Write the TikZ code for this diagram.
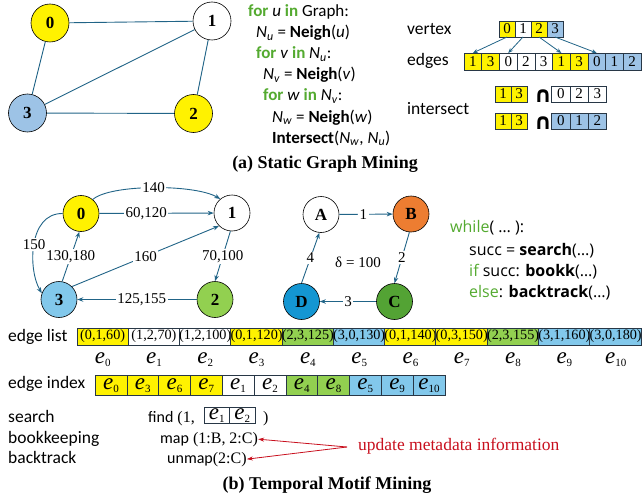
\documentclass[tikz,border=0pt]{standalone}
\usepackage{fontspec}
\setmainfont{Liberation Serif}
\newfontfamily\calfont{Carlito}
\newfontfamily\segfont{Open Sans}
\newfontfamily\symfont{DejaVu Sans}
\usetikzlibrary{arrows.meta}
\definecolor{edgeblue}{RGB}{33,100,135}
\definecolor{celldark}{RGB}{40,55,70}
\definecolor{kwgreen}{RGB}{84,170,48}
\definecolor{ablue}{RGB}{157,195,230}
\definecolor{bblue}{RGB}{130,200,235}
\definecolor{lgreen}{RGB}{146,208,80}
\definecolor{dgreen}{RGB}{83,163,52}
\definecolor{dblue}{RGB}{20,150,210}
\definecolor{borange}{RGB}{237,125,49}
\definecolor{notered}{RGB}{200,16,30}
\newcommand\kwd[1]{{\bfseries\color{kwgreen}#1}}
\newcommand\Nsub[1]{\textit{N}\textsubscript{\textit{#1}}}
% edge identifier: large italic e with a small upright index
\newcommand\ee[1]{{\fontsize{23}{23}\selectfont\itshape e}\raisebox{-3pt}{\fontsize{11}{11}\selectfont #1}}
\begin{document}
\begin{tikzpicture}[x=1pt,y=1pt,
  vnode/.style={circle,draw=black,line width=0.6pt,inner sep=0pt,font=\fontsize{17}{17}\selectfont\bfseries},
  anode/.style={vnode,minimum size=38pt},
  bnode/.style={vnode,minimum size=36pt},
  link/.style={draw=edgeblue,line width=0.9pt},
  arc/.style={link,-{Stealth[length=6pt,width=4.5pt]}},
  lbl/.style={fill=white,inner sep=1.5pt,font=\fontsize{15}{15}\selectfont},
  cell/.style={draw=celldark,line width=0.6pt,inner sep=0pt,outer sep=0pt},
  vcell/.style={cell,minimum width=16pt,minimum height=16pt,font=\fontsize{15}{15}\selectfont},
  ecell/.style={cell,minimum width=17.7pt,minimum height=17pt,font=\fontsize{15}{15}\selectfont},
  xcell/.style={cell,minimum width=18.3pt,minimum height=16pt,font=\fontsize{15}{15}\selectfont},
  lcell/.style={cell,minimum width=51.3pt,minimum height=17pt,font=\fontsize{14.2}{14.2}\selectfont},
  icell/.style={cell,minimum width=31.8pt,minimum height=20pt,text height=12pt,text depth=4pt},
  fcell/.style={cell,minimum width=25.5pt,minimum height=16pt,text height=11pt,text depth=3pt},
  code/.style={anchor=base west,inner sep=0pt,font=\calfont\fontsize{17}{17}\selectfont},
  wcode/.style={anchor=base west,inner sep=0pt,font=\segfont\fontsize{16}{16}\selectfont},
  tag/.style={anchor=base west,inner sep=0pt,font=\calfont\fontsize{17.5}{17.5}\selectfont},
  sub/.style={anchor=base west,inner sep=0pt,font=\fontsize{16}{16}\selectfont},
  caption/.style={anchor=base,inner sep=0pt,font=\fontsize{18}{18}\selectfont\bfseries},
  intersym/.style={inner sep=0pt,font=\symfont\bfseries\fontsize{22}{22}\selectfont},
  redarrow/.style={draw=notered,line width=0.8pt,-{Stealth[length=6pt,width=4pt]}}]
\useasboundingbox (0,0) rectangle (642,-500);

% ---------- (a) static graph ----------
\node[anode,fill=yellow] (a0) at (50,-23) {0};
\node[anode,fill=white]  (a1) at (212,-21) {1};
\node[anode,fill=ablue]  (a3) at (27.5,-113) {3};
\node[anode,fill=yellow] (a2) at (193.5,-113.5) {2};
\draw[link] (a0) -- (a1);
\draw[link] (a0) -- (a3);
\draw[link] (a1) -- (a3);
\draw[link] (a1) -- (a2);
\draw[link] (a3) -- (a2);

% nested loop pseudo code
\node[code] (c1) at (248,-17) {\kwd{for} \textit{u} \kwd{in} Graph:};
\node[code] (c2) at (256,-37.5) {\Nsub{u} = \textbf{Neigh}(\textit{u})};
\node[code] (c3) at (256,-58.5) {\kwd{for} \textit{v} \kwd{in} \Nsub{u}:};
\node[code] (c4) at (263,-80) {\Nsub{v} = \textbf{Neigh}(\textit{v})};
\node[code] (c5) at (263,-101) {\kwd{for} \textit{w} \kwd{in} \Nsub{v}:};
\node[code] (c6) at (272,-122) {\Nsub{w} = \textbf{Neigh}(\textit{w})};
\node[code] (c7) at (272,-143) {\textbf{Intersect}(\Nsub{w}, \Nsub{u})};

% CSR arrays
\node[tag] (tv) at (407,-35) {vertex};
\node[tag] (te) at (407,-66) {edges};
\node[tag] (ti) at (407,-114) {intersect};

\node[vcell,fill=yellow] (v0) at (507,-29) {0};
\node[vcell,fill=white]  (v1) at (523,-29) {1};
\node[vcell,fill=yellow] (v2) at (539,-29) {2};
\node[vcell,fill=ablue]  (v3) at (555,-29) {3};

\node[ecell,fill=yellow] (e0) at (472.85,-61.5) {1};
\node[ecell,fill=yellow] (e1) at (490.55,-61.5) {3};
\node[ecell,fill=white]  (e2) at (508.25,-61.5) {0};
\node[ecell,fill=white]  (e3) at (525.95,-61.5) {2};
\node[ecell,fill=white]  (e4) at (543.65,-61.5) {3};
\node[ecell,fill=yellow] (e5) at (561.35,-61.5) {1};
\node[ecell,fill=yellow] (e6) at (579.05,-61.5) {3};
\node[ecell,fill=ablue]  (e7) at (596.75,-61.5) {0};
\node[ecell,fill=ablue]  (e8) at (614.45,-61.5) {1};
\node[ecell,fill=ablue]  (e9) at (632.15,-61.5) {2};

\draw[link,line width=0.8pt,-{Stealth[length=5pt,width=4pt]}] (v0.south) -- (e0.north);
\draw[link,line width=0.8pt,-{Stealth[length=5pt,width=4pt]}] (v1.south) -- (e2.north);
\draw[link,line width=0.8pt,-{Stealth[length=5pt,width=4pt]}] (v2.south) -- (e5.north);
\draw[link,line width=0.8pt,-{Stealth[length=5pt,width=4pt]}] (v3.south) -- (e7.north);

\node[vcell,fill=yellow] (p0) at (503,-94) {1};
\node[vcell,fill=yellow] (p1) at (519,-94) {3};
\node[intersym] (inter1) at (543,-96) {∩};
\node[xcell,fill=white] (q0) at (560.85,-94) {0};
\node[xcell,fill=white] (q1) at (579.15,-94) {2};
\node[xcell,fill=white] (q2) at (597.45,-94) {3};

\node[vcell,fill=yellow] (r0) at (503,-121) {1};
\node[vcell,fill=yellow] (r1) at (519,-121) {3};
\node[intersym] (inter2) at (543,-123) {∩};
\node[xcell,fill=ablue] (s0) at (560.85,-121) {0};
\node[xcell,fill=ablue] (s1) at (579.15,-121) {1};
\node[xcell,fill=ablue] (s2) at (597.45,-121) {2};

\node[caption] (capa) at (325,-168) {(a) Static Graph Mining};

% ---------- (b) temporal graph ----------
\node[bnode,fill=yellow] (b0) at (81,-213.5) {0};
\node[bnode,fill=white]  (b1) at (232,-213) {1};
\node[bnode,fill=bblue]  (b3) at (59,-299.5) {3};
\node[bnode,fill=lgreen] (b2) at (215,-299.5) {2};

\draw[arc] (b0) -- node[lbl,pos=0.41] {60,120} (b1);
\draw[arc] (b0.50) .. controls (110,-184) and (195,-184) .. node[lbl,pos=0.5] {140} (b1.130);
\draw[arc] (b0.west) .. controls (28,-213) and (28,-270) .. node[lbl,pos=0.5] {150} (b3.160);
\draw[arc] (b3.80) -- node[lbl,pos=0.5] {130,180} (b0.265);
\draw[arc] (b3.45) -- node[lbl,pos=0.5] {160} (b1.225);
\draw[arc] (b1.265) -- node[lbl,pos=0.5] {70,100} (b2.north);
\draw[arc] (b2) -- node[lbl,pos=0.46] {125,155} (b3);

% motif
\node[bnode,fill=white]   (mA) at (321,-214.5) {A};
\node[bnode,fill=borange] (mB) at (411,-214) {B};
\node[bnode,fill=dgreen]  (mC) at (394.5,-301.5) {C};
\node[bnode,fill=dblue]   (mD) at (301.5,-301.5) {D};
\draw[arc] (mA) -- node[lbl,pos=0.45] {1} (mB);
\draw[arc] (mB.265) -- node[lbl,pos=0.5] {2} (mC.north);
\draw[arc] (mC) -- node[lbl,pos=0.5] {3} (mD);
\draw[arc] (mD.north) -- node[lbl,pos=0.5] {4} (mA.265);
\node[font=\fontsize{15}{15}\selectfont,inner sep=0pt] (delta) at (358,-262) {δ = 100};

% search loop
\node[wcode] (w1) at (450,-232) {{\color{kwgreen}while}( … ):};
\node[wcode] (w2) at (469,-255) {succ = \textbf{search}(…)};
\node[wcode] (w3) at (469,-276) {{\color{kwgreen}if} succ: \textbf{bookk}(…)};
\node[wcode] (w4) at (469,-297) {{\color{kwgreen}else}: \textbf{backtrack}(…)};

% edge list
\node[tag] (tl) at (8,-341) {edge list};
\node[lcell,fill=yellow] (l0)  at (102.65,-336.5) {(0,1,60)};
\node[lcell,fill=white]  (l1)  at (153.95,-336.5) {(1,2,70)};
\node[lcell,fill=white]  (l2)  at (205.25,-336.5) {(1,2,100)};
\node[lcell,fill=yellow] (l3)  at (256.55,-336.5) {(0,1,120)};
\node[lcell,fill=lgreen] (l4)  at (307.85,-336.5) {(2,3,125)};
\node[lcell,fill=bblue]  (l5)  at (359.15,-336.5) {(3,0,130)};
\node[lcell,fill=yellow] (l6)  at (410.45,-336.5) {(0,1,140)};
\node[lcell,fill=yellow] (l7)  at (461.75,-336.5) {(0,3,150)};
\node[lcell,fill=lgreen] (l8)  at (513.05,-336.5) {(2,3,155)};
\node[lcell,fill=bblue]  (l9)  at (564.35,-336.5) {(3,1,160)};
\node[lcell,fill=bblue]  (l10) at (615.65,-336.5) {(3,0,180)};
\foreach \i in {0,...,10}
  \node[anchor=base,inner sep=0pt] (el\i) at ({102.65+51.3*\i},-363) {\ee{\i}};

% edge index
\node[tag] (tx) at (8,-388) {edge index};
\node[icell,fill=yellow] (x0)  at (110.9,-385) {\ee{0}};
\node[icell,fill=yellow] (x1)  at (142.7,-385) {\ee{3}};
\node[icell,fill=yellow] (x2)  at (174.5,-385) {\ee{6}};
\node[icell,fill=yellow] (x3)  at (206.3,-385) {\ee{7}};
\node[icell,fill=white]  (x4)  at (238.1,-385) {\ee{1}};
\node[icell,fill=white]  (x5)  at (269.9,-385) {\ee{2}};
\node[icell,fill=lgreen] (x6)  at (301.7,-385) {\ee{4}};
\node[icell,fill=lgreen] (x7)  at (333.5,-385) {\ee{8}};
\node[icell,fill=bblue]  (x8)  at (365.3,-385) {\ee{5}};
\node[icell,fill=bblue]  (x9)  at (397.1,-385) {\ee{9}};
\node[icell,fill=bblue]  (x10) at (428.9,-385) {\ee{10}};

% operations
\node[tag] (ts) at (8,-422) {search};
\node[tag] (tk) at (8,-443) {bookkeeping};
\node[tag] (tb) at (8,-463) {backtrack};
\node[sub] (find) at (148,-422) {{\calfont find} (1,};
\node[fcell,fill=white] (f1) at (216.75,-415) {\ee{1}};
\node[fcell,fill=white] (f2) at (242.25,-415) {\ee{2}};
\node[sub] (fclose) at (263,-422) {)};
\node[sub] (map) at (160,-443) {{\calfont map} (1:B, 2:C)};
\node[sub] (unmap) at (167,-463) {{\calfont unmap}(2:C)};
\coordinate (upd) at (347,-447);
\node[anchor=base west,inner sep=0pt,text=notered,font=\fontsize{17.5}{17.5}\selectfont] (note) at (358,-450) {update metadata information};
\draw[redarrow] (upd) -- (map.east);
\draw[redarrow] (upd) -- (unmap.east);

\node[caption] (capb) at (327,-489) {(b) Temporal Motif Mining};
\end{tikzpicture}
\end{document}
